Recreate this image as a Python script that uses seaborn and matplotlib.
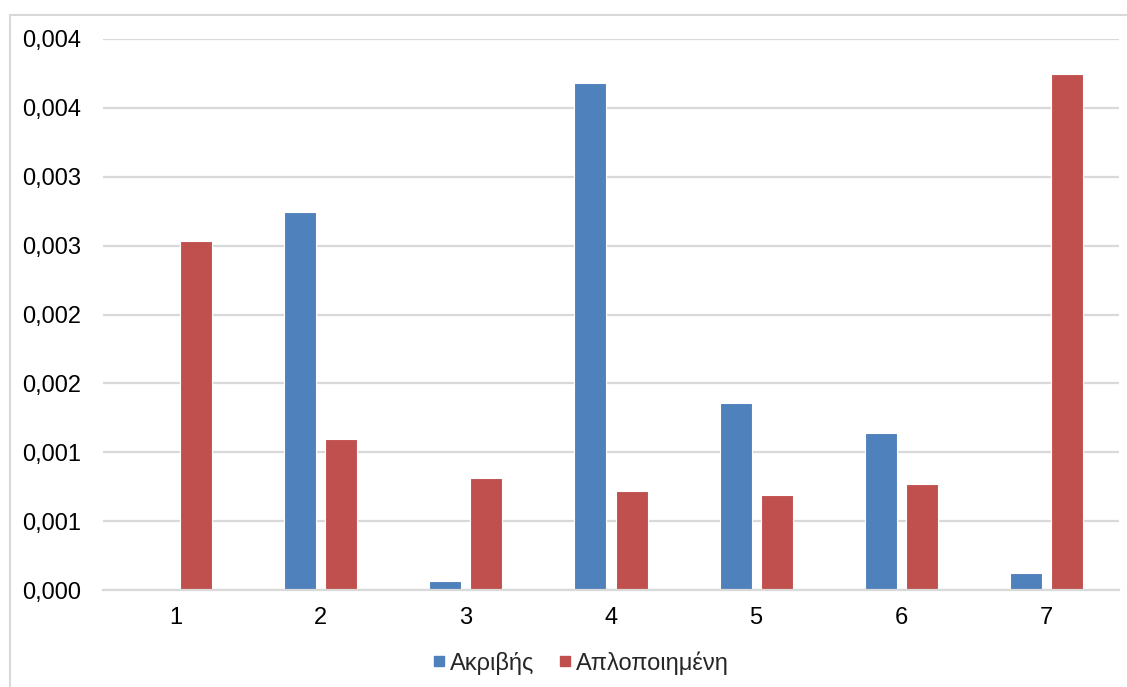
import matplotlib
matplotlib.use("Agg")
import matplotlib.pyplot as plt
from matplotlib.lines import Line2D
from matplotlib.ticker import FixedLocator, FuncFormatter
import seaborn as sns
import pandas as pd

# Data
categories = ["1", "2", "3", "4", "5", "6", "7"]
akrivis = [0.0, 0.002744, 0.000062, 0.003680, 0.001355, 0.001140, 0.000123]
aplopoiimeni = [0.002534, 0.001096, 0.000811, 0.000719, 0.000687, 0.000770, 0.003746]
series_names = ["Ακριβής", "Απλοποιημένη"]
y_ticks = [0.0, 0.0005, 0.001, 0.0015, 0.002, 0.0025, 0.003, 0.0035, 0.004]

df = pd.DataFrame({
    "cat": categories * 2,
    "val": akrivis + aplopoiimeni,
    "series": [series_names[0]] * len(categories) + [series_names[1]] * len(categories),
})

sns.set_theme(style="white")
plt.rcParams["font.family"] = ["Liberation Sans", "DejaVu Sans"]

W, H = 1127, 687
fig = plt.figure(figsize=(W / 100, H / 100), dpi=100)
ax = fig.add_axes([103 / W, (H - 590) / H, (1119 - 103) / W, (590 - 39) / H])

palette = {series_names[0]: "#4f81bd", series_names[1]: "#c0504d"}
sns.barplot(data=df, x="cat", y="val", hue="series", order=categories,
            hue_order=series_names, palette=palette, width=0.566, gap=0.22,
            saturation=1, ax=ax, legend=False, linewidth=0.8)
for p in ax.patches:
    p.set_edgecolor("#ffffff")
    p.set_alpha(1)

ax.set_ylim(0, 0.004)
ax.set_xlim(-0.5, 6.5)
ax.yaxis.set_major_locator(FixedLocator(y_ticks))
ax.yaxis.set_major_formatter(FuncFormatter(
    lambda v, _: (f"{v + 1e-9:.3f}").replace(".", ",")))
ax.grid(axis="y", color="#d9d9d9", linewidth=1.6)
ax.set_axisbelow(True)
for s in ["top", "right", "left"]:
    ax.spines[s].set_visible(False)
ax.spines["bottom"].set_color("#d9d9d9")
ax.spines["bottom"].set_linewidth(1.6)
ax.tick_params(axis="both", length=0, labelsize=17, colors="#000000")
ax.tick_params(axis="y", pad=15.5)
ax.tick_params(axis="x", pad=12)
ax.set_xlabel("")
ax.set_ylabel("")

# Legend below the plot
handles = [Line2D([0], [0], marker="s", linestyle="", markersize=7,
                  markerfacecolor=palette[n], markeredgecolor=palette[n])
           for n in series_names]
fig.legend(handles, series_names, loc="center", bbox_to_anchor=(0.515, 1 - 663 / H),
           ncol=2, frameon=False, fontsize=17, handletextpad=0.15,
           columnspacing=1.0, handlelength=0.6)

# Chart area border
fig.add_artist(Line2D([10 / W, 10 / W], [0, 1 - 15 / H], transform=fig.transFigure,
                      color="#d9d9d9", linewidth=1.5))
fig.add_artist(Line2D([10 / W, 1], [1 - 15 / H, 1 - 15 / H], transform=fig.transFigure,
                      color="#d9d9d9", linewidth=1.5))

fig.savefig("out.png", dpi=100, facecolor="white")
